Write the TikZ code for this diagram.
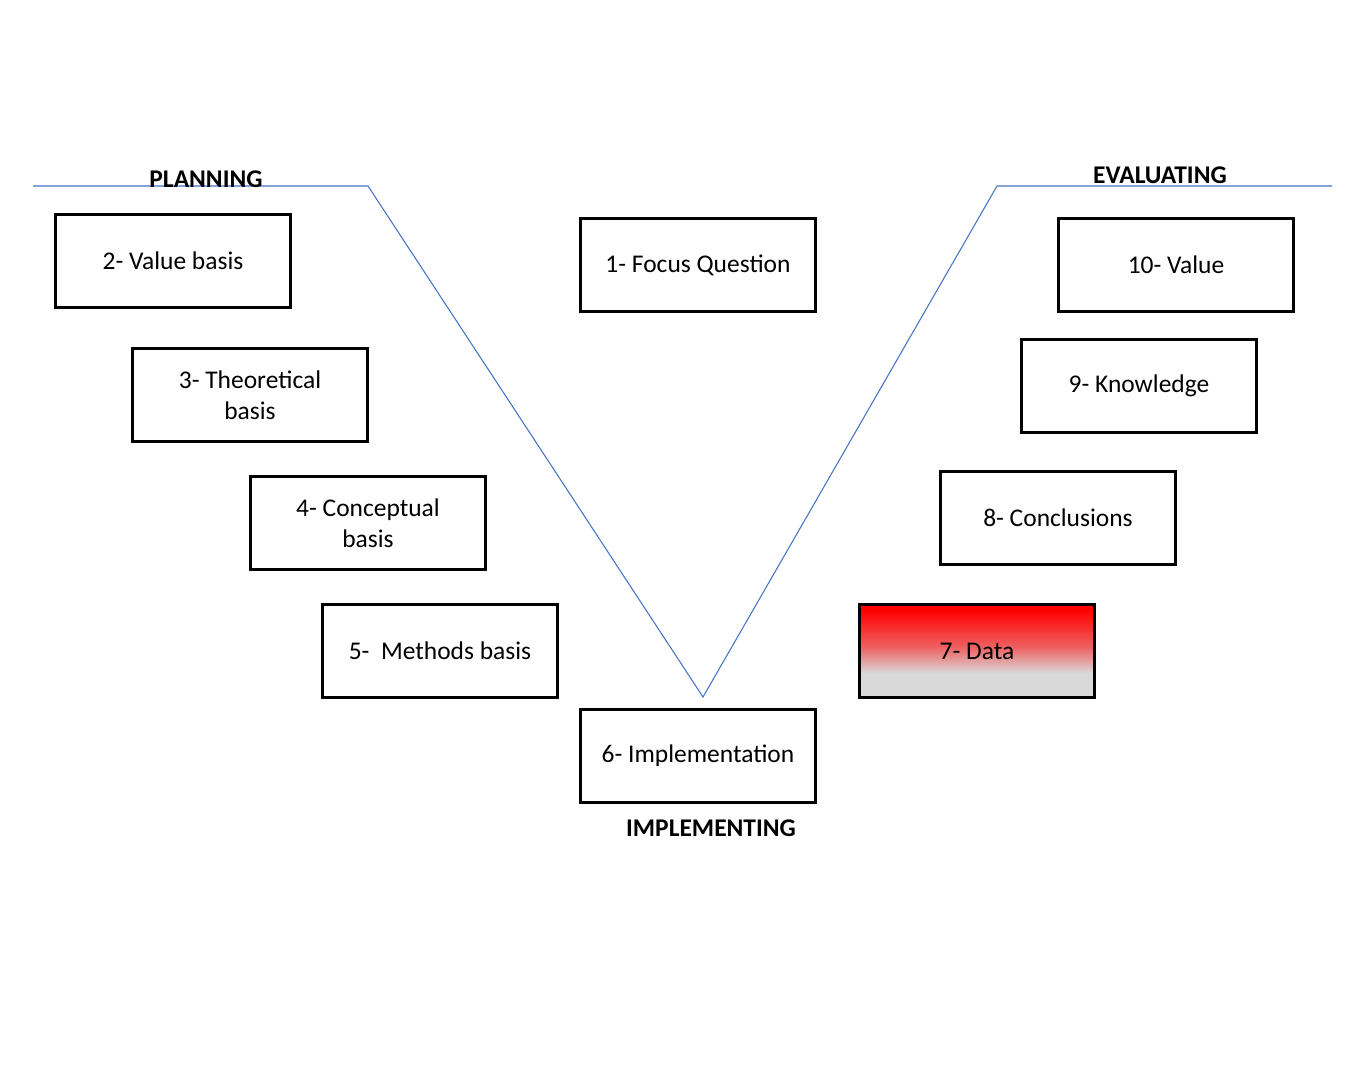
\documentclass[tikz,border=0pt]{standalone}
\usepackage{fontspec}
\setmainfont{Carlito}
\definecolor{vblue}{RGB}{68,114,196}
\definecolor{lgray}{RGB}{217,217,217}
\pgfdeclareverticalshading{datashade}{100bp}{color(0bp)=(lgray); color(38bp)=(lgray); color(52bp)=(red!55!lgray); color(72bp)=(red); color(100bp)=(red)}

\begin{document}
\begin{tikzpicture}[x=0.02cm, y=-0.02cm,
    stepbox/.style={draw, line width=1.6pt, minimum width=4.70cm, minimum height=1.86cm,
      align=center, font=\fontsize{14.5}{17.6}\selectfont},
    phase/.style={font=\fontsize{14.5}{17.6}\selectfont\bfseries, inner sep=0pt}]
    \useasboundingbox (0,0) rectangle (1365,1068);
    % the V
    \coordinate (L) at (33,186);
    \coordinate (LT) at (368,186);
    \coordinate (V) at (703,697);
    \coordinate (RT) at (997,186);
    \coordinate (R) at (1332,186);
    \draw[vblue, line width=0.6pt] (L) -- (LT) -- (V) -- (RT) -- (R);
    % phases
    \node[phase] (plan) at (206,179) {PLANNING};
    \node[phase] (eval) at (1160,175) {EVALUATING};
    \node[phase] (impl) at (711,828) {IMPLEMENTING};
    % steps
    \node[stepbox] (focus) at (698,265) {1- Focus Question};
    \node[stepbox] (valb) at (173,261) {2- Value basis};
    \node[stepbox] (theo) at (250,395) {3- Theoretical\\basis};
    \node[stepbox] (conc) at (368,523) {4- Conceptual\\basis};
    \node[stepbox] (meth) at (440,651) {5-\ \ Methods basis};
    \node[stepbox] (impt) at (698,756) {6- Implementation};
    \node[stepbox, shading=datashade, shade] (data) at (977,651) {7- Data};
    \node[stepbox] (cncl) at (1058,518) {8- Conclusions};
    \node[stepbox] (know) at (1139,386) {9- Knowledge};
    \node[stepbox] (valu) at (1176,265) {10- Value};
\end{tikzpicture}
\end{document}
